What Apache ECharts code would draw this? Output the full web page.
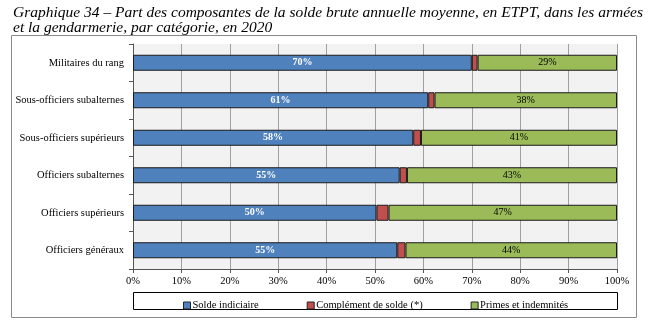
<!DOCTYPE html>
<html><head><meta charset="utf-8">
<script src="https://cdn.jsdelivr.net/npm/echarts@6/dist/echarts.min.js"></script>
<style>html,body{margin:0;padding:0;background:#fff}#c{width:648px;height:323px}</style>
</head><body><div id="c"></div>
<script>
const categories = ["Militaires du rang","Sous-officiers subalternes","Sous-officiers supérieurs","Officiers subalternes","Officiers supérieurs","Officiers généraux"];
const soldeIndiciaire = [70.0, 61.0, 57.9, 55.1, 50.3, 54.6];
const complementSolde = [1.2, 1.3, 1.6, 1.5, 2.5, 1.7];
const primesIndemnites = [28.8, 37.7, 40.5, 43.4, 47.2, 43.7];
const seriesNames = ["Solde indiciaire","Complément de solde (*)","Primes et indemnités"];
const xTicks = [0,10,20,30,40,50,60,70,80,90,100];

const serif = '"Liberation Serif","DejaVu Serif",serif';
const chart = echarts.init(document.getElementById('c'), null, {renderer:'canvas'});
const pct = p => Math.round(p.value) + '%';
chart.setOption({
  animation:false,
  textStyle:{fontFamily:serif},
  title:{
    text:"Graphique 34 – Part des composantes de la solde brute annuelle moyenne, en ETPT, dans les armées\net la gendarmerie, par catégorie, en 2020",
    left:8, top:0,
    textStyle:{fontFamily:serif, fontStyle:'italic', fontWeight:'normal', fontSize:15.5, lineHeight:15, color:'#000'}
  },
  graphic:[
    {type:'rect', shape:{x:11.5,y:35.5,width:625,height:282}, style:{fill:'none',stroke:'#8a8a8a',lineWidth:1}, z:-10},
    {type:'rect', shape:{x:133.5,y:292.5,width:484,height:17}, style:{fill:'#fff',stroke:'#000',lineWidth:1}, z:-5}
  ],
  legend:{
    data:seriesNames, left:178, top:295, itemWidth:7, itemHeight:7, itemGap:48,
    icon:'rect',
    textStyle:{fontFamily:serif, fontSize:10.5, color:'#000', padding:[0,0,0,-3]},
    itemStyle:{borderColor:'#222', borderWidth:1}
  },
  grid:{left:133, right:31, top:44, bottom:54, show:true, backgroundColor:'#f2f2f2', borderWidth:0},
  xAxis:{
    type:'value', min:0, max:100, interval:10,
    axisLine:{show:true, lineStyle:{color:'#555'}},
    axisTick:{show:true, length:4, lineStyle:{color:'#555'}},
    splitLine:{show:true, lineStyle:{color:'#a0a0a0', width:1}},
    axisLabel:{formatter:v => xTicks.includes(v) ? v + '%' : '', fontFamily:serif, fontSize:10.5, color:'#000', margin:7}
  },
  yAxis:{
    type:'category', data:categories, inverse:true,
    axisLine:{show:true, lineStyle:{color:'#555'}},
    axisTick:{show:true, length:4, lineStyle:{color:'#555'}},
    axisLabel:{fontFamily:serif, fontSize:10.5, color:'#000', margin:9}
  },
  series:[
    {name:seriesNames[0], type:'bar', stack:'s', data:soldeIndiciaire, barWidth:16,
     itemStyle:{color:'#4F81BD', borderColor:'#1a1a1a', borderWidth:1},
     label:{show:true, position:'inside', formatter:pct, color:'#fff', fontFamily:serif, fontSize:10, fontWeight:'bold'}},
    {name:seriesNames[1], type:'bar', stack:'s', data:complementSolde, barWidth:16,
     itemStyle:{color:'#C0504D', borderColor:'#1a1a1a', borderWidth:1}},
    {name:seriesNames[2], type:'bar', stack:'s', data:primesIndemnites, barWidth:16,
     itemStyle:{color:'#9BBB59', borderColor:'#1a1a1a', borderWidth:1},
     label:{show:true, position:'inside', formatter:pct, color:'#000', fontFamily:serif, fontSize:10}}
  ]
});
</script></body></html>
